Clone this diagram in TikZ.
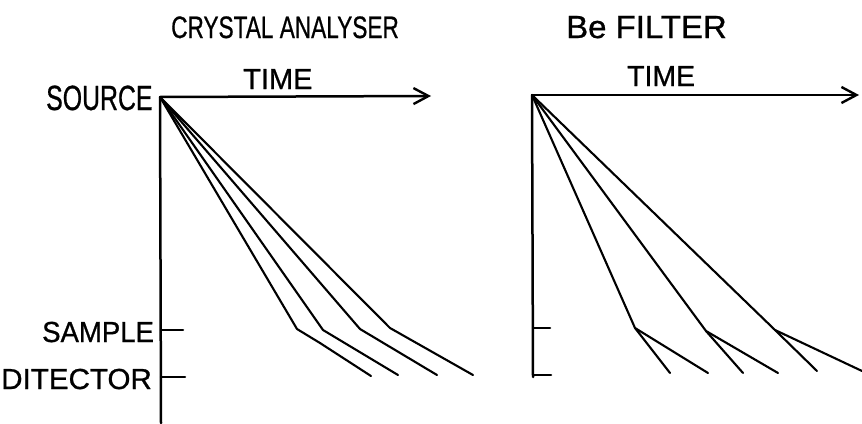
\documentclass[tikz,border=0pt]{standalone}
\usepackage{fontspec}
\setmainfont{Liberation Sans}
\newfontfamily\labfont[FakeBold=0.8]{Liberation Sans}
\usetikzlibrary{arrows.meta}
\newcommand{\mylbl}[2]{\scalebox{#1}[1]{#2}}
\tikzset{
  lbl/.style={inner sep=0pt, anchor=base west, font=\labfont\fontsize{29}{30}\selectfont},
  axisline/.style={line width=2.5pt, line cap=round},
  pathline/.style={line width=2.1pt, line join=round, line cap=round},
  arr/.style={-{Straight Barb[length=15pt,width=16pt,line width=2.4pt]}}
}
\begin{document}
\begin{tikzpicture}[x=1pt,y=-1pt]
\useasboundingbox (0,0) rectangle (862,423);
% ---------- left panel ----------
\coordinate (o1) at (160,97);
\coordinate (t1) at (431,96);
\coordinate (b1) at (161,423);
\coordinate (s1a) at (161,330); \coordinate (s1b) at (183,330);
\coordinate (d1a) at (161,377); \coordinate (d1b) at (185,377);
\node[lbl, font=\labfont\fontsize{31}{32}\selectfont] (ca) at (171,38) {\mylbl{0.73}{CRYSTAL ANALYSER}};
\node[lbl] (time1) at (243,89) {\mylbl{1.0}{TIME}};
\node[lbl, font=\labfont\fontsize{35}{36}\selectfont] (src) at (46,110) {\mylbl{0.71}{SOURCE}};
\node[lbl] (smp) at (42,342) {\mylbl{0.95}{SAMPLE}};
\node[lbl] (det) at (1,389) {\mylbl{1.02}{DITECTOR}};
\draw[axisline, arr] (o1) -- (t1);
\draw[axisline] (o1) -- (b1);
\draw[axisline] (s1a) -- (s1b);
\draw[axisline] (d1a) -- (d1b);
\coordinate (k11) at (297,329); \coordinate (k11b) at (320,343); \coordinate (e11) at (371,376);
\coordinate (k12) at (323,330); \coordinate (e12) at (398,375);
\coordinate (k13) at (360,329); \coordinate (e13) at (437,375);
\coordinate (k14) at (390,328); \coordinate (e14) at (473,375);
\draw[pathline] (o1) -- (k11) -- (k11b) -- (e11);
\draw[pathline] (o1) -- (k12) -- (e12);
\draw[pathline] (o1) -- (k13) -- (e13);
\draw[pathline] (o1) -- (k14) -- (e14);
% ---------- right panel ----------
\coordinate (o2) at (532,95);
\coordinate (t2) at (859,95);
\coordinate (b2) at (533,377);
\coordinate (s2a) at (533,328); \coordinate (s2b) at (550,328);
\coordinate (d2a) at (533,375); \coordinate (d2b) at (551,375);
\node[lbl, font=\labfont\fontsize{32}{33}\selectfont] (bf) at (566,38) {\mylbl{1.03}{Be FILTER}};
\node[lbl] (time2) at (627,86) {\mylbl{0.98}{TIME}};
\draw[axisline, arr] (o2) -- (t2);
\draw[axisline] (o2) -- (b2);
\draw[axisline] (s2a) -- (s2b);
\draw[axisline] (d2a) -- (d2b);
\coordinate (k21) at (635,328); \coordinate (e21a) at (670,373); \coordinate (e21b) at (708,373);
\coordinate (k22) at (706,331); \coordinate (e22a) at (743,373); \coordinate (e22b) at (778,373);
\coordinate (k23) at (775,330); \coordinate (e23a) at (817,371); \coordinate (e23b) at (862,371);
\draw[pathline] (o2) -- (k21) -- (e21a);
\draw[pathline] (k21) -- (e21b);
\draw[pathline] (o2) -- (k22) -- (e22a);
\draw[pathline] (k22) -- (e22b);
\draw[pathline] (o2) -- (k23) -- (e23a);
\draw[pathline] (k23) -- (e23b);
\end{tikzpicture}
\end{document}
